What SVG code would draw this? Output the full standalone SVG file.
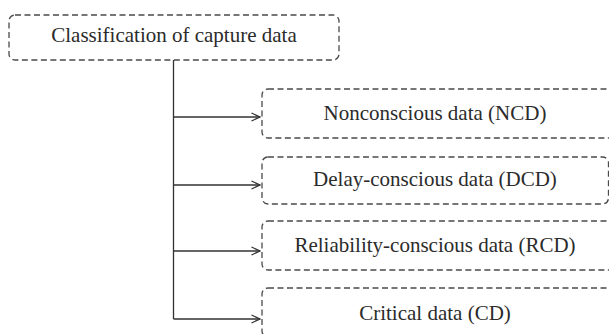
<svg xmlns="http://www.w3.org/2000/svg" width="609" height="334" viewBox="0 0 609 334">
  <style>
    .box { fill: none; stroke: #4a4a4a; stroke-width: 1.3; stroke-dasharray: 6 3.5; }
    .lbl { font-family: "Liberation Serif", "Times New Roman", serif; font-size: 21px; fill: #2b2b2b; text-anchor: middle; }
    .wire { fill: none; stroke: #333; stroke-width: 1.3; }
  </style>
  <defs>
    <marker id="open" viewBox="0 0 10 10" refX="9.5" refY="5" markerWidth="10" markerHeight="10" markerUnits="userSpaceOnUse" orient="auto">
      <path d="M1,1 L9.5,5 L1,9" fill="none" stroke="#333" stroke-width="1.3"/>
    </marker>
  </defs>

  <g id="root">
    <rect class="box" x="9" y="15" width="330" height="45" rx="6"/>
    <text class="lbl" x="174" y="42">Classification of capture data</text>
  </g>

  <g id="connectors">
    <path class="wire" d="M173.5,60 V319"/>
    <path class="wire" d="M173.5,117 H260" marker-end="url(#open)"/>
    <path class="wire" d="M173.5,185 H260" marker-end="url(#open)"/>
    <path class="wire" d="M173.5,251 H260" marker-end="url(#open)"/>
    <path class="wire" d="M173.5,319 H260" marker-end="url(#open)"/>
  </g>

  <g id="ncd">
    <rect class="box" x="262" y="89" width="352" height="49" rx="6"/>
    <text class="lbl" x="435" y="119.5">Nonconscious data (NCD)</text>
  </g>
  <g id="dcd">
    <rect class="box" x="262" y="157" width="346.5" height="47" rx="6"/>
    <text class="lbl" x="435" y="186">Delay-conscious data (DCD)</text>
  </g>
  <g id="rcd">
    <rect class="box" x="262" y="221" width="352" height="49" rx="6"/>
    <text class="lbl" x="435" y="252">Reliability-conscious data (RCD)</text>
  </g>
  <g id="cd">
    <rect class="box" x="262" y="288" width="352" height="49" rx="6"/>
    <text class="lbl" x="435" y="320">Critical data (CD)</text>
  </g>
</svg>
